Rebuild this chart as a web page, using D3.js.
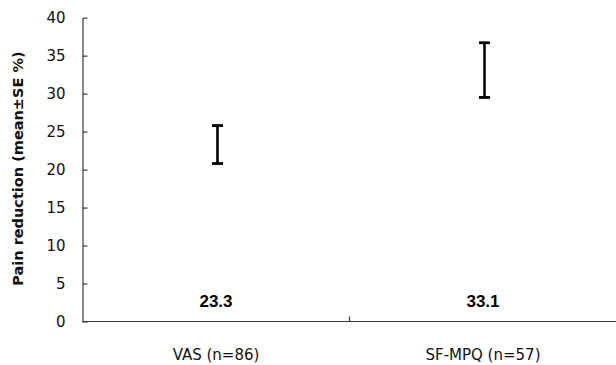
<!DOCTYPE html>
<html>
<head>
<meta charset="utf-8">
<script src="https://cdn.jsdelivr.net/npm/d3@7"></script>
<style>
  body { margin: 0; background: #fff; }
  svg { display: block; }
</style>
</head>
<body>
<script>
// data
let categories = ['VAS (n=86)', 'SF-MPQ (n=57)'];
let means = [23.3, 33.1];
let se = [2.5, 3.6];
let yTicks = [0, 5, 10, 15, 20, 25, 30, 35, 40];

let width = 616;
let height = 365;

let margin = {
  left: 82.5,
  right: -0.5,
  top: 17.7,
  bottom: 43.5
};

let svg = d3.select('body')
  .append('svg')
  .attr('width', width)
  .attr('height', height);

//scale
let x = d3.scaleBand()
  .domain(categories)
  .range([margin.left, width - margin.right])
  .padding(0);

let y = d3.scaleLinear()
  .domain([0, 40])
  .range([height - margin.bottom, margin.top]);

let axisColor = '#3a3a3a';

// y axis, ticks pointing inward
let yAxis = d3.axisLeft(y)
  .tickValues(yTicks)
  .tickSizeInner(-5)
  .tickSizeOuter(0)
  .tickPadding(17);

let yG = svg.append('g')
  .attr('transform', 'translate(' + margin.left + ',0)')
  .call(yAxis);

yG.select('.domain').attr('stroke', axisColor).attr('stroke-width', 1.2);
yG.selectAll('.tick line').attr('stroke', axisColor).attr('stroke-width', 1.2);
yG.selectAll('.tick text')
  .attr('font-family', '"DejaVu Sans", sans-serif')
  .attr('font-size', 15)
  .attr('fill', '#111');

// x axis line with ticks between categories
let baseY = y(0);
svg.append('line')
  .attr('x1', x.range()[0])
  .attr('x2', x.range()[1])
  .attr('y1', baseY)
  .attr('y2', baseY)
  .attr('stroke', axisColor)
  .attr('stroke-width', 1.2);

svg.selectAll('.xtick')
  .data(categories.slice(1))
  .enter()
  .append('line')
  .attr('class', 'xtick')
  .attr('x1', function (d) { return x(d); })
  .attr('x2', function (d) { return x(d); })
  .attr('y1', baseY)
  .attr('y2', baseY - 5)
  .attr('stroke', axisColor)
  .attr('stroke-width', 1.2);

svg.selectAll('.xlabel')
  .data(categories)
  .enter()
  .append('text')
  .attr('class', 'xlabel')
  .attr('x', function (d) { return x(d) + x.bandwidth() / 2; })
  .attr('y', baseY + 38.5)
  .attr('text-anchor', 'middle')
  .attr('font-family', '"DejaVu Sans", sans-serif')
  .attr('font-size', 15)
  .attr('fill', '#111')
  .text(function (d) { return d; });

// error bars
let rows = categories.map(function (c, i) {
  return { cat: c, mean: means[i], se: se[i] };
});
let capW = 5.5;

let bars = svg.selectAll('.err')
  .data(rows)
  .enter()
  .append('g')
  .attr('class', 'err')
  .attr('transform', function (d) {
    return 'translate(' + (x(d.cat) + x.bandwidth() / 2 + 1.5) + ',0)';
  });

bars.append('line')
  .attr('y1', function (d) { return y(d.mean + d.se); })
  .attr('y2', function (d) { return y(d.mean - d.se); })
  .attr('stroke', '#000')
  .attr('stroke-width', 2.6);

bars.selectAll('.cap')
  .data(function (d) { return [d.mean + d.se, d.mean - d.se]; })
  .enter()
  .append('line')
  .attr('class', 'cap')
  .attr('x1', -capW)
  .attr('x2', capW)
  .attr('y1', function (v) { return y(v); })
  .attr('y2', function (v) { return y(v); })
  .attr('stroke', '#000')
  .attr('stroke-width', 2.8);

// mean labels near the bottom
svg.selectAll('.val')
  .data(rows)
  .enter()
  .append('text')
  .attr('class', 'val')
  .attr('x', function (d) { return x(d.cat) + x.bandwidth() / 2; })
  .attr('y', baseY - 14.5)
  .attr('text-anchor', 'middle')
  .attr('font-family', '"Liberation Sans", Arial, sans-serif')
  .attr('font-weight', 'bold')
  .attr('font-size', 17)
  .attr('fill', '#000')
  .text(function (d) { return d.mean.toFixed(1); });

// y axis title
svg.append('text')
  .attr('transform', 'translate(23,' + (y(20) - 1) + ') rotate(-90)')
  .attr('text-anchor', 'middle')
  .attr('font-family', '"DejaVu Sans", sans-serif')
  .attr('font-weight', 'bold')
  .attr('font-size', 14.5)
  .attr('fill', '#111')
  .text('Pain reduction (mean±SE %)');
</script>
</body>
</html>
